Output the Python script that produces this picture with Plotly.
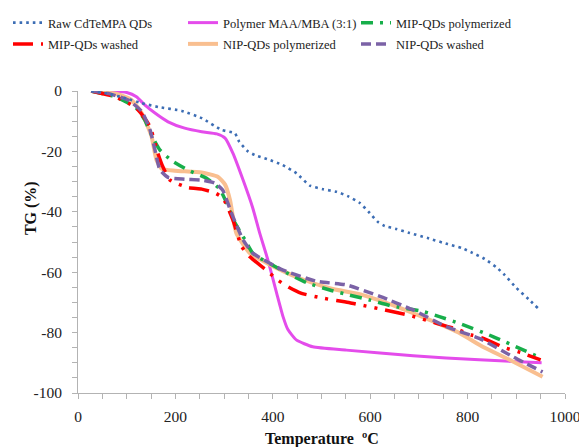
import plotly.graph_objects as go

# ---- data ----
raw_T = [27, 60, 100, 130, 165, 213, 254, 295, 322, 331, 349, 363, 388, 420, 449, 476, 503, 531, 554, 578, 599, 616, 630, 654, 681, 718, 759, 788, 810, 835, 860, 876, 900, 925, 945]
raw_TG = [0, -0.8, -2.5, -4, -5.3, -6.6, -9, -12.9, -14, -16.8, -20, -21.2, -22.5, -24.5, -27.3, -31.3, -32.5, -33.4, -34.8, -37, -40.4, -43.4, -44.7, -45.7, -47, -48.7, -50.7, -52, -53.6, -55.6, -58.5, -60.9, -65.2, -68.9, -72]

poly_T = [27, 70, 100, 120, 137, 158, 185, 219, 254, 285, 302, 318, 339, 359, 373, 390, 408, 421, 431, 449, 482, 551, 688, 824, 952]
poly_TG = [0, -0.1, -0.5, -1.9, -4.6, -7.3, -10.2, -12.3, -13.5, -14.2, -15.6, -20.6, -29.5, -38.8, -47, -56, -67, -74.7, -79, -82.5, -84.7, -85.8, -87.7, -89, -90]

mipp_T = [27, 76, 103, 120, 137, 154, 168, 192, 226, 264, 291, 305, 320, 343, 359, 420, 470, 517, 558, 599, 640, 708, 742, 784, 852, 952]
mipp_TG = [0, -1.9, -4, -5.7, -9.6, -15.6, -19.5, -23, -26.2, -28.9, -32.5, -37, -43, -49.3, -53.7, -59.5, -63.5, -65.9, -67.6, -69.2, -71, -73, -74.7, -77, -81.3, -88.5]

mipw_T = [27, 76, 103, 120, 137, 148, 164, 174, 189, 226, 254, 281, 298, 318, 336, 353, 390, 410, 433, 459, 503, 531, 558, 582, 630, 683, 736, 780, 808, 831, 876, 903, 950]
mipw_TG = [0, -1.9, -4, -5.7, -9, -11.8, -20.6, -25, -29.5, -32, -32.5, -33.7, -35.5, -42.7, -51.5, -54.9, -59.8, -62.6, -65, -67, -68.6, -69.4, -70.1, -70.9, -72.5, -74.4, -76.9, -79, -80.8, -81.8, -85, -86.3, -89]

nipp_T = [27, 80, 110, 131, 151, 161, 172, 199, 254, 287, 302, 312, 325, 353, 394, 455, 517, 585, 654, 722, 784, 831, 886, 954]
nipp_TG = [0, -1, -3, -7.4, -15, -22.8, -25.8, -26.4, -27, -28.4, -31, -36, -47, -53.7, -57.5, -62, -65.3, -67.6, -71.4, -75.8, -80.2, -84.7, -89, -94.6]

nipw_T = [27, 61, 103, 131, 148, 158, 168, 185, 219, 254, 281, 297, 305, 318, 339, 359, 421, 490, 551, 620, 688, 756, 825, 893, 954]
nipw_TG = [0, -0.8, -3, -6.8, -12.9, -19.5, -26, -28.6, -29.2, -29.5, -30.5, -32.8, -36, -41.6, -49.3, -53.7, -59.3, -63, -64.2, -68, -72.5, -78, -82, -88, -93]

names = ["Raw CdTeMPA QDs", "Polymer MAA/MBA (3:1)", "MIP-QDs polymerized",
         "MIP-QDs washed", "NIP-QDs polymerized", "NIP-QDs washed"]

x_tickvals = [0, 200, 400, 600, 800, 1000]
y_tickvals = [0, -20, -40, -60, -80, -100]

FONT = "Liberation Serif"

fig = go.Figure()

def add(T, TG, name, color, width, dash, legend, rank):
    fig.add_trace(go.Scatter(
        x=T, y=TG, name=name, mode="lines", legend=legend, legendrank=rank,
        legendgroup=name,
        line=dict(color=color, width=width, dash=dash, shape="spline", smoothing=0.5),
    ))

# draw order: later traces on top
add(poly_T, poly_TG, names[1], "#E44CEB", 3, "solid", "legend2", 1)
add(nipp_T, nipp_TG, names[4], "#F9BF90", 4, "solid", "legend2", 2)
add(mipp_T, mipp_TG, names[2], "#17AE4A", 3.5, "12px,7px,3px,7px", "legend3", 1)
add(mipw_T, mipw_TG, names[3], "#FF0000", 3.5, "20px,8px,3px,8px,3px,8px", "legend", 2)
add(nipw_T, nipw_TG, names[5], "#7B62A6", 3.5, "10px,5px", "legend3", 2)
add(raw_T, raw_TG, names[0], "#3C6DB4", 2.6, "2.6px,4px", "legend", 1)

axis_common = dict(
    showgrid=False, zeroline=False, showline=True, linecolor="#B3B3B3", linewidth=1,
    ticks="outside", ticklen=5, tickcolor="#B3B3B3", tickwidth=1,
    tickfont=dict(family=FONT, size=15.5, color="#222222"),
)

def leg(x):
    return dict(
        orientation="v", xref="container", yref="container",
        x=x, y=1.0, xanchor="left", yanchor="top",
        font=dict(family=FONT, size=12.5, color="#222222"),
        traceorder="grouped", bgcolor="rgba(0,0,0,0)", itemwidth=30,
        tracegroupgap=2,
    )

# the page body adds an 8px offset, so the figure is sized to end at the window edge
W, H = 579, 439
fig.update_layout(
    width=W, height=H,
    margin=dict(l=70, r=21.5, t=83, b=54, autoexpand=False),
    paper_bgcolor="white", plot_bgcolor="white",
    showlegend=True,
    legend=leg(0.0),
    legend2=leg(175 / W),
    legend3=leg(348 / W),
    xaxis=dict(
        range=[0, 1000], tickvals=x_tickvals, ticktext=[str(v) for v in x_tickvals],
        minor=dict(dtick=50, ticks="outside", ticklen=5, tickcolor="#B3B3B3", showgrid=False),
        ticklabelstandoff=4,
        **axis_common,
    ),
    yaxis=dict(
        range=[-100, 0], tickvals=y_tickvals, ticktext=[str(v) for v in y_tickvals],
        minor=dict(dtick=5, ticks="outside", ticklen=5, tickcolor="#B3B3B3", showgrid=False),
        ticklabelstandoff=7,
        **axis_common,
    ),
    annotations=[
        dict(
            text="<b>TG (%)</b>", xref="paper", yref="paper", x=-0.096, y=0.613,
            showarrow=False, textangle=-90, xanchor="center", yanchor="middle",
            font=dict(family=FONT, size=16, color="#111111"),
        ),
        dict(
            text="<b>Temperature  ºC</b>", xref="paper", yref="paper", x=0.5, y=-0.115,
            showarrow=False, xanchor="center", yanchor="top",
            font=dict(family=FONT, size=16, color="#111111"),
        ),
    ],
)

fig.write_html("out.html")
